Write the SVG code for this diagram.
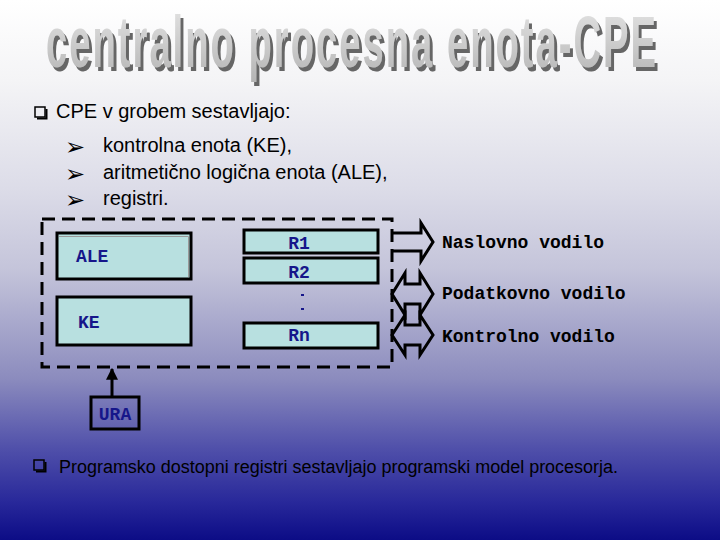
<svg xmlns="http://www.w3.org/2000/svg" width="720" height="540" viewBox="0 0 720 540">
<defs>
<linearGradient id="bg" x1="0" y1="0" x2="0" y2="1">
<stop offset="0" stop-color="#ffffff"/>
<stop offset="0.15" stop-color="#f4f4f6"/>
<stop offset="0.35" stop-color="#dcdce8"/>
<stop offset="0.5" stop-color="#c4c4da"/>
<stop offset="0.7" stop-color="#8c8cbe"/>
<stop offset="0.83" stop-color="#5050aa"/>
<stop offset="0.93" stop-color="#28289a"/>
<stop offset="1" stop-color="#0c0c86"/>
</linearGradient>
<linearGradient id="tg" x1="0" y1="0" x2="0" y2="1">
<stop offset="0" stop-color="#e6e6e6"/>
<stop offset="1" stop-color="#b4b4b4"/>
</linearGradient>
<filter id="shadow" x="-10%" y="-50%" width="120%" height="200%">
<feOffset in="SourceAlpha" dx="3" dy="2" result="off"/>
<feFlood flood-color="#666666"/>
<feComposite in2="off" operator="in" result="sh"/>
<feMerge><feMergeNode in="sh"/><feMergeNode in="SourceGraphic"/></feMerge>
</filter>
<marker id="ah" viewBox="0 0 10 10" refX="9" refY="5" markerWidth="4" markerHeight="4" orient="auto">
<path d="M0,0 L10,5 L0,10 z" fill="#000"/>
</marker>
</defs>
<style>
.body{font-family:"Liberation Sans",Arial,sans-serif;font-size:20px;fill:#000}
.arr{font-family:"DejaVu Sans",sans-serif;font-size:24px;fill:#000}
.box{fill:#b8e0e0;stroke:#000;stroke-width:3}
.lbl{font-family:"Liberation Mono","Courier New",monospace;font-weight:bold;font-size:18px;fill:#16168a}
.bus{font-family:"Liberation Mono","Courier New",monospace;font-weight:bold;font-size:18px;fill:#000}
.busarrow{fill:none;stroke:#000;stroke-width:3;stroke-linejoin:miter}
.title{font-family:"Liberation Sans",Arial,sans-serif;font-weight:bold;font-size:38px}
</style>
<rect x="0" y="0" width="720" height="540" fill="url(#bg)"/>

<g id="title" transform="translate(0,67) scale(1,1.92)" filter="url(#shadow)">
<text class="title" x="46" y="0" fill="url(#tg)" textLength="612" lengthAdjust="spacingAndGlyphs" letter-spacing="2">centralno procesna enota-CPE</text>
</g>

<g id="bullets">
<rect x="35" y="107" width="10" height="10" fill="none" stroke="#000" stroke-width="1.5"/>
<path d="M37,118.5 H46.5 V109" fill="none" stroke="#000" stroke-width="2"/>
<text class="body" x="56" y="118">CPE v grobem sestavljajo:</text>
<text class="arr" x="65" y="155">➢</text>
<text class="body" x="103" y="152">kontrolna enota (KE),</text>
<text class="arr" x="65" y="182">➢</text>
<text class="body" x="103" y="179">aritmetično logična enota (ALE),</text>
<text class="arr" x="65" y="208">➢</text>
<text class="body" x="103" y="205">registri.</text>
</g>

<g id="cpe">
<rect x="42" y="219" width="350" height="148" fill="none" stroke="#000" stroke-width="3" stroke-dasharray="13,7"/>
</g>

<g id="ALE">
<rect class="box" x="57" y="233" width="134" height="46" stroke-width="4"/>
<path d="M59,236.5 H188.5 V277" fill="none" stroke="#9a9a9a" stroke-width="1"/>
<text class="lbl" x="76" y="262">ALE</text>
</g>
<g id="KE">
<rect class="box" x="57" y="297" width="134" height="48"/>
<text class="lbl" x="78" y="328">KE</text>
</g>
<g id="R1">
<rect class="box" x="244" y="230" width="134" height="23"/>
<text class="lbl" x="299" y="249" text-anchor="middle">R1</text>
</g>
<g id="R2">
<rect class="box" x="244" y="258" width="134" height="25"/>
<text class="lbl" x="299" y="278" text-anchor="middle">R2</text>
</g>
<g id="dots">
<rect x="301" y="294" width="3" height="2" fill="#16168a"/>
<rect x="301" y="308" width="3" height="2" fill="#16168a"/>
</g>
<g id="Rn">
<rect class="box" x="244" y="323" width="134" height="25"/>
<text class="lbl" x="299" y="341" text-anchor="middle">Rn</text>
</g>

<g id="URA">
<rect x="91" y="397" width="48" height="32" fill="none" stroke="#000" stroke-width="3"/>
<text class="lbl" x="115" y="420" text-anchor="middle">URA</text>
</g>

<g id="connectors">
<line x1="112" y1="397" x2="112" y2="369" stroke="#000" stroke-width="3" marker-end="url(#ah)"/>
<path class="busarrow" d="M392,233 H421 V223 L433,242 L421,261 V251 H392"/>
<path class="busarrow" d="M392,294 L405,273 V284 H420 V273 L433,294 L420,315 V304 H405 V315 Z"/>
<path class="busarrow" d="M392,335 L405,315 V325 H420 V315 L433,335 L420,355 V345 H405 V355 Z"/>
</g>

<g id="buslabels">
<text class="bus" x="442" y="248">Naslovno vodilo</text>
<text class="bus" x="442" y="299">Podatkovno vodilo</text>
<text class="bus" x="442" y="342">Kontrolno vodilo</text>
</g>

<g id="footer">
<rect x="34" y="460" width="10" height="10" fill="none" stroke="#000" stroke-width="1.5"/>
<path d="M36,471.5 H45.5 V462" fill="none" stroke="#000" stroke-width="2"/>
<text class="body" x="59" y="473" textLength="559" lengthAdjust="spacingAndGlyphs" style="font-size:18px">Programsko dostopni registri sestavljajo programski model procesorja.</text>
</g>
</svg>
